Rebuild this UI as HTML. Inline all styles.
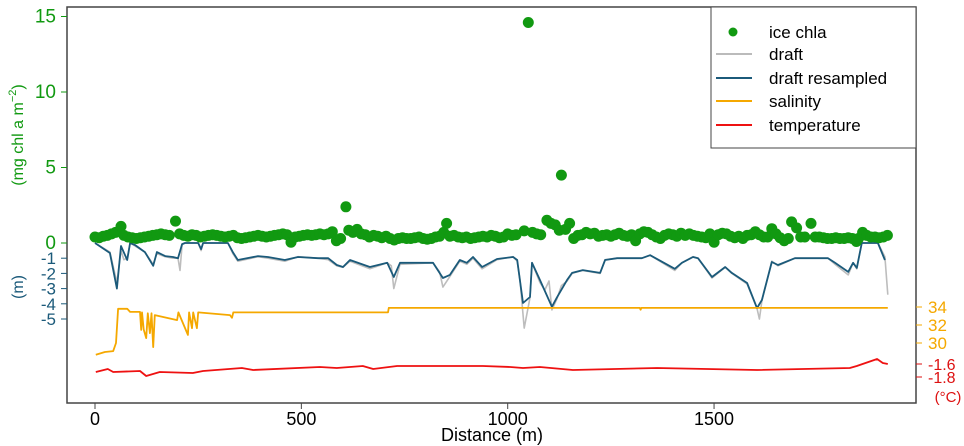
<!DOCTYPE html>
<html><head><meta charset="utf-8"><style>
html,body{margin:0;padding:0;background:#fff;}
svg{display:block;font-family:"Liberation Sans",sans-serif;}
</style></head><body>
<svg id="chart" width="964" height="446" viewBox="0 0 964 446" xmlns="http://www.w3.org/2000/svg">
<rect x="67" y="7" width="849" height="396" fill="none" stroke="#444" stroke-width="1.5"/>
<g id="marks"></g>
<g id="axes"></g>
<text x="492" y="441" font-size="18" text-anchor="middle">Distance (m)</text>
<text transform="translate(23,135) rotate(-90)" font-size="16" fill="#119911" text-anchor="middle">(mg chl a m<tspan dy="-7" font-size="11">−2</tspan><tspan dy="7">)</tspan></text>
<text transform="translate(23,287) rotate(-90)" font-size="16" fill="#1b5a7a" text-anchor="middle">(m)</text>
<text x="948" y="402" font-size="15" fill="#dd1111" text-anchor="middle">(°C)</text>
<g>
<rect x="711" y="7" width="205" height="141" fill="#fff" stroke="#444" stroke-width="1"/>
<circle cx="733" cy="32" r="4.5" fill="#119911"/>
<line x1="716" y1="54" x2="752" y2="54" stroke="#bbb" stroke-width="2"/>
<line x1="716" y1="78" x2="752" y2="78" stroke="#1b5a7a" stroke-width="2"/>
<line x1="716" y1="101" x2="752" y2="101" stroke="#f5a800" stroke-width="2"/>
<line x1="716" y1="125" x2="752" y2="125" stroke="#ee1111" stroke-width="2"/>
<text x="769" y="38" font-size="17">ice chla</text>
<text x="769" y="60" font-size="17">draft</text>
<text x="769" y="84" font-size="17">draft resampled</text>
<text x="769" y="107" font-size="17">salinity</text>
<text x="769" y="131" font-size="17">temperature</text>
</g>
</svg>
<script>
const xTicks=[0,500,1000,1500];
const chlaTicks=[0,5,10,15];
const draftTicks=[-1,-2,-3,-4,-5];
const salTicks=[34,32,30];
const tempTicks=[-1.6,-1.8];
const chlaDist=[0,10,20,30,40,50,63,70,80,90,100,110,120,130,140,150,160,170,180,195,205,215,225,235,245,255,265,275,285,295,305,315,325,335,345,355,365,375,385,395,405,415,425,435,445,455,465,475,485,495,505,515,525,535,545,555,565,575,585,595,608,615,625,635,645,655,665,675,685,695,705,715,725,735,745,755,765,775,785,795,805,815,825,835,845,852,860,870,880,890,900,910,920,930,940,950,960,970,980,990,1000,1010,1020,1040,1050,1060,1070,1080,1095,1105,1115,1125,1130,1140,1150,1160,1170,1180,1190,1200,1210,1220,1230,1240,1250,1260,1270,1280,1290,1300,1310,1320,1330,1340,1350,1360,1370,1380,1390,1400,1410,1420,1430,1440,1450,1460,1470,1480,1490,1500,1510,1520,1530,1540,1550,1560,1570,1580,1590,1600,1610,1620,1630,1640,1650,1660,1670,1680,1688,1700,1710,1720,1735,1745,1755,1765,1775,1785,1795,1805,1815,1825,1835,1845,1850,1860,1870,1880,1890,1900,1910,1920];
const chlaVal=[0.4,0.35,0.45,0.5,0.6,0.7,1.1,0.5,0.4,0.35,0.3,0.35,0.4,0.45,0.5,0.55,0.6,0.55,0.5,1.45,0.6,0.5,0.45,0.55,0.5,0.4,0.45,0.5,0.55,0.5,0.45,0.4,0.45,0.5,0.35,0.3,0.35,0.4,0.45,0.5,0.45,0.4,0.45,0.5,0.55,0.6,0.55,0.05,0.4,0.45,0.5,0.55,0.5,0.55,0.6,0.55,0.6,0.75,0.15,0.3,2.4,0.85,0.7,0.9,0.6,0.55,0.4,0.5,0.45,0.35,0.45,0.3,0.2,0.3,0.35,0.3,0.3,0.35,0.4,0.3,0.25,0.3,0.4,0.45,0.7,1.3,0.45,0.5,0.4,0.35,0.4,0.3,0.35,0.4,0.45,0.4,0.5,0.45,0.35,0.4,0.6,0.5,0.55,0.8,14.6,0.7,0.6,0.55,1.5,1.3,1.2,0.85,4.5,0.9,1.3,0.3,0.5,0.55,0.7,0.6,0.65,0.45,0.5,0.55,0.45,0.55,0.65,0.5,0.45,0.55,0.15,0.6,0.75,0.7,0.55,0.4,0.3,0.5,0.6,0.55,0.45,0.65,0.5,0.6,0.5,0.45,0.4,0.35,0.6,0.05,0.55,0.65,0.6,0.45,0.35,0.45,0.3,0.5,0.55,0.75,0.55,0.4,0.4,0.95,0.6,0.35,0.15,0.3,1.4,1.0,0.4,0.4,1.3,0.4,0.4,0.35,0.3,0.3,0.35,0.3,0.3,0.35,0.3,0.1,0.3,0.7,0.5,0.4,0.4,0.35,0.4,0.5];
const rsDist=[0,36,53,63,78,85,97,121,141,150,170,189,201,211,218,250,257,262,322,334,346,395,419,460,492,540,565,586,601,618,666,708,724,739,819,843,860,884,901,916,938,974,1013,1023,1037,1054,1059,1078,1107,1119,1144,1156,1182,1224,1236,1265,1325,1345,1405,1422,1449,1461,1495,1527,1543,1580,1604,1616,1640,1655,1696,1776,1793,1825,1837,1846,1858,1897,1914];
const rsVal=[0,-0.66,-3.0,-0.2,-1.12,0,-0.13,-0.6,-1.5,-0.6,-0.86,-0.92,-1.0,-0.07,0,0,-0.4,0,0,-0.6,-1.12,-0.86,-0.92,-1.12,-0.92,-1.0,-1.0,-1.45,-1.58,-1.12,-1.58,-1.3,-2.24,-1.3,-1.3,-2.3,-2.1,-1.12,-1.3,-0.92,-1.58,-1.05,-0.92,-1.12,-3.95,-3.55,-1.3,-2.43,-4.2,-3.6,-2.43,-1.97,-1.78,-1.97,-1.12,-1.0,-1.0,-0.8,-1.7,-1.3,-0.92,-1.0,-2.24,-1.58,-1.97,-2.63,-4.28,-3.75,-1.25,-1.45,-1.0,-1.0,-1.3,-1.9,-1.3,-1.64,0,0,-1.12];
const rawDist=[0,36,53,63,70,78,85,97,121,141,150,170,189,201,206,211,218,250,257,262,322,334,346,395,419,460,492,540,565,586,601,618,666,708,718,724,739,819,835,843,860,884,901,916,938,974,1013,1023,1030,1040,1054,1059,1078,1090,1100,1107,1119,1130,1144,1156,1182,1224,1236,1265,1325,1345,1405,1422,1449,1461,1495,1527,1543,1580,1604,1610,1616,1640,1655,1696,1776,1793,1825,1837,1846,1858,1897,1914,1921];
const rawVal=[0,-0.6,-2.6,-0.5,-1.1,-1.0,0,-0.2,-0.6,-1.4,-0.7,-0.9,-1.0,-1.0,-1.8,-0.1,0,0,-0.5,0,0,-0.7,-1.2,-0.9,-1.0,-1.2,-0.9,-1.0,-1.1,-1.5,-1.6,-1.2,-1.7,-1.3,-1.5,-3.0,-1.4,-1.3,-1.9,-2.9,-2.2,-1.2,-1.4,-1.0,-1.7,-1.1,-0.9,-1.2,-2.5,-5.6,-3.6,-1.3,-2.6,-3.1,-2.5,-4.4,-3.7,-2.8,-2.5,-2.0,-1.8,-2.0,-1.1,-1.0,-1.0,-0.8,-1.8,-1.3,-0.9,-1.0,-2.3,-1.6,-2.0,-2.7,-4.3,-5.0,-3.8,-1.2,-1.5,-1.0,-1.0,-1.4,-2.1,-1.3,-1.7,0,0,-0.9,-3.4];
const salDist=[2,24,44,51,56,78,85,109,112,114,118,124,128,133,137,141,145,199,202,225,228,235,238,247,250,327,332,335,710,712,1320,1322,1324,1921];
const salVal=[28.7,29.0,29.1,30.0,33.8,33.8,33.45,33.45,31.45,33.4,31.5,30.55,33.3,31.1,33.3,29.55,33.1,32.55,33.4,30.9,33.4,31.65,33.4,31.65,33.4,33.1,32.8,33.4,33.4,33.9,33.9,33.7,33.9,33.9];
const tDist=[2,31,44,109,124,157,237,262,356,383,545,586,649,674,732,940,1006,1037,1078,1158,1362,1604,1829,1846,1895,1909,1921];
const tVal=[-1.723,-1.677,-1.723,-1.708,-1.785,-1.723,-1.738,-1.708,-1.662,-1.692,-1.646,-1.662,-1.631,-1.677,-1.631,-1.631,-1.646,-1.662,-1.646,-1.692,-1.662,-1.692,-1.662,-1.631,-1.523,-1.585,-1.6];

const NS='http://www.w3.org/2000/svg';
const X=d=>95+d*0.4127;
const Yc=v=>243-v*15.1;
const Yd=v=>243-v*15.2;
const Ys=v=>307-(v-34)*9;
const Yt=v=>364-(v+1.6)*65;
const marks=document.getElementById('marks'), axes=document.getElementById('axes');
function mk(tag,attrs,parent){const e=document.createElementNS(NS,tag);for(const k in attrs)e.setAttribute(k,attrs[k]);parent.appendChild(e);return e;}
function line(ds,vs,yf,color,w,name){
  const pts=ds.map((d,i)=>X(d).toFixed(1)+','+yf(vs[i]).toFixed(1)).join(' ');
  const p=mk('polyline',{points:pts,fill:'none',stroke:color,'stroke-width':w,'stroke-linejoin':'round'},marks);
  
  
}
line(rawDist,rawVal,Yd,'#bdbdbd',1.6,'draft-line');
line(rsDist,rsVal,Yd,'#1b5a7a',1.8,'draft-resampled-line');
line(salDist,salVal,Ys,'#f5a800',1.8,'salinity-line');
line(tDist,tVal,Yt,'#ee1111',1.8,'temperature-line');
chlaDist.forEach((d,i)=>{
  const c=mk('circle',{cx:X(d).toFixed(1),cy:Yc(chlaVal[i]).toFixed(1),r:5.5,fill:'#119911'},marks);
  
  
});
xTicks.forEach(t=>{
  const l=mk('line',{x1:X(t),x2:X(t),y1:403,y2:409,stroke:'#444'},axes);
  
  
  const tx=mk('text',{x:X(t),y:425,'font-size':18,'text-anchor':'middle'},axes);
  tx.textContent=t;
  
  
});
function yAxis(ticks,yf,color,left,name,fs){
  ticks.forEach(t=>{
    const y=yf(t);
    const l=mk('line',{x1:left?61:916,x2:left?67:922,y1:y,y2:y,stroke:color},axes);
    
    
    const tx=mk('text',{x:left?56:928,y:y+6,'font-size':fs,'text-anchor':left?'end':'start',fill:color},axes);
    tx.textContent=String(t);
    
    
  });
}
yAxis(chlaTicks,Yc,'#119911',true,'chla-axis',19);
yAxis(draftTicks,Yd,'#1b5a7a',true,'draft-axis',17);
yAxis(salTicks,Ys,'#f5a800',false,'salinity-axis',17);
yAxis(tempTicks,Yt,'#dd1111',false,'temperature-axis',16);
</script>
</body></html>
